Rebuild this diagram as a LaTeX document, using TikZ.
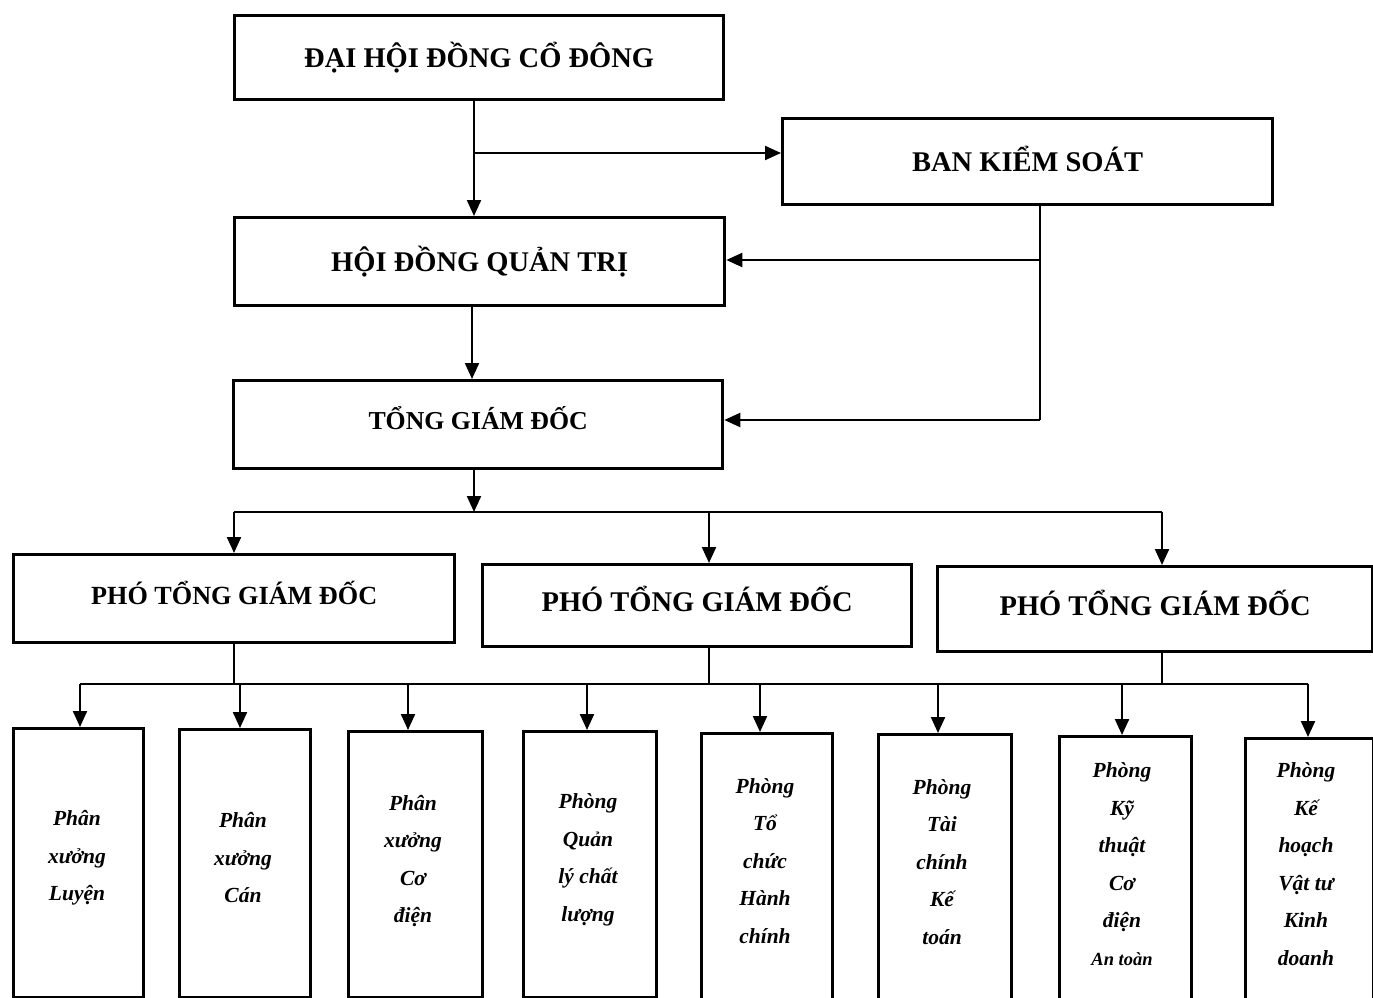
\documentclass[tikz,border=0pt]{standalone}
\usepackage{fontspec}
\setmainfont{Liberation Serif}
\usetikzlibrary{arrows.meta,calc}
\begin{document}
\begin{tikzpicture}[x=1pt,y=-1pt,
  box/.style={draw, line width=3.3pt, rectangle, inner sep=0pt, anchor=north west},
  ttl/.style={font=\fontsize{28.5}{30}\selectfont\bfseries, text height=19pt, text depth=0pt},
  lbl/.style={font=\fontsize{21.5}{37.5}\selectfont\bfseries\itshape, align=center},
  wire/.style={line width=2.2pt},
  conn/.style={line width=2.2pt, -{Triangle[length=16pt,width=14pt]}}]
\useasboundingbox (0,0) rectangle (1373,998);
\clip (0,0) rectangle (1373,998);
\fill[white] (0,0) rectangle (1373,998);

% top level boxes
\node[box, minimum width=489pt, minimum height=84pt] (dhd) at (233,14) {};
\node[ttl] (tdhd) at (dhd.center) {ĐẠI HỘI ĐỒNG CỔ ĐÔNG};
\node[box, minimum width=490pt, minimum height=86pt] (bks) at (781,117) {};
\node[ttl] (tbks) at (bks.center) {BAN KIỂM SOÁT};
\node[box, minimum width=490pt, minimum height=88pt] (hdqt) at (233,216) {};
\node[ttl] (thdqt) at (hdqt.center) {HỘI ĐỒNG QUẢN TRỊ};
\node[box, minimum width=489pt, minimum height=88pt] (tgd) at (232,379) {};
\node[ttl, font=\fontsize{25.8}{28}\selectfont\bfseries, text height=17pt] (ttgd) at ($(tgd.center)+(0,-4)$) {TỔNG GIÁM ĐỐC};

% deputy directors
\node[box, minimum width=441pt, minimum height=88pt] (p1) at (12,553) {};
\node[ttl, font=\fontsize{26.2}{28}\selectfont\bfseries, text height=17.4pt] (tp1) at ($(p1.center)+(0,-3)$) {PHÓ TỔNG GIÁM ĐỐC};
\node[box, minimum width=429pt, minimum height=82pt] (p2) at (481,563) {};
\node[ttl] (tp2) at ($(p2.center)+(0,-4)$) {PHÓ TỔNG GIÁM ĐỐC};
\node[box, minimum width=435pt, minimum height=85pt] (p3) at (936,565) {};
\node[ttl] (tp3) at ($(p3.center)+(0,-3)$) {PHÓ TỔNG GIÁM ĐỐC};

% departments
\node[box, minimum width=130pt, minimum height=269pt] (d1) at (12,727) {};
\node[box, minimum width=131pt, minimum height=268pt] (d2) at (178,728) {};
\node[box, minimum width=134pt, minimum height=266pt] (d3) at (347,730) {};
\node[box, minimum width=133pt, minimum height=266pt] (d4) at (522,730) {};
\node[box, minimum width=131pt, minimum height=290pt] (d5) at (700,732) {};
\node[box, minimum width=133pt, minimum height=290pt] (d6) at (877,733) {};
\node[box, minimum width=132pt, minimum height=290pt] (d7) at (1058,735) {};
\node[box, minimum width=128pt, minimum height=290pt] (d8) at (1244,737) {};

\node[lbl] (t1) at (77,858) {Phân\\xưởng\\Luyện};
\node[lbl] (t2) at (243,858) {Phân\\xưởng\\Cán};
\node[lbl] (t3) at (413,861) {Phân\\xưởng\\Cơ\\điện};
\node[lbl] (t4) at (588,860) {Phòng\\Quản\\lý chất\\lượng};
\node[lbl] (t5) at (765,861) {Phòng\\Tổ\\chức\\Hành\\chính};
\node[lbl] (t6) at (942,862) {Phòng\\Tài\\chính\\Kế\\toán};
\node[lbl] (t7) at (1122,864) {Phòng\\Kỹ\\thuật\\Cơ\\điện\\{\fontsize{18.5}{37.5}\selectfont An toàn}};
\node[lbl] (t8) at (1306,864) {Phòng\\Kế\\hoạch\\Vật tư\\Kinh\\doanh};

% connectors top
\coordinate (j1) at (474,153);
\draw[conn] (dhd.south -| j1) -- (hdqt.north -| j1);
\draw[conn] (j1) -- (bks.west |- j1);
\coordinate (j2) at (1040,260);
\coordinate (j3) at (1040,420);
\draw[wire] (bks.south -| j2) -- (j3);
\draw[conn] (j2) -- (hdqt.east |- j2);
\draw[conn] (j3) -- (tgd.east |- j3);
\coordinate (j4) at (472,380);
\draw[conn] (hdqt.south -| j4) -- (tgd.north -| j4);

% bus 1
\coordinate (b1) at (474,512);
\coordinate (b1l) at (234,512);
\coordinate (b1m) at (709,512);
\coordinate (b1r) at (1162,512);
\draw[conn] (tgd.south -| b1) -- (b1);
\draw[wire] (b1l) -- (b1r);
\draw[conn] (b1l) -- (p1.north -| b1l);
\draw[conn] (b1m) -- (p2.north -| b1m);
\draw[conn] (b1r) -- (p3.north -| b1r);

% bus 2
\coordinate (a1) at (80,684);
\coordinate (a2) at (240,684);
\coordinate (a3) at (408,684);
\coordinate (a4) at (587,684);
\coordinate (a5) at (760,684);
\coordinate (a6) at (938,684);
\coordinate (a7) at (1122,684);
\coordinate (a8) at (1308,684);
\draw[wire] (p1.south -| b1l) -- (b1l |- a1);
\draw[wire] (p2.south -| b1m) -- (b1m |- a1);
\draw[wire] (p3.south -| b1r) -- (b1r |- a1);
\draw[wire] (a1) -- (a8);
\draw[conn] (a1) -- (d1.north -| a1);
\draw[conn] (a2) -- (d2.north -| a2);
\draw[conn] (a3) -- (d3.north -| a3);
\draw[conn] (a4) -- (d4.north -| a4);
\draw[conn] (a5) -- (d5.north -| a5);
\draw[conn] (a6) -- (d6.north -| a6);
\draw[conn] (a7) -- (d7.north -| a7);
\draw[conn] (a8) -- (d8.north -| a8);
\end{tikzpicture}
\end{document}
